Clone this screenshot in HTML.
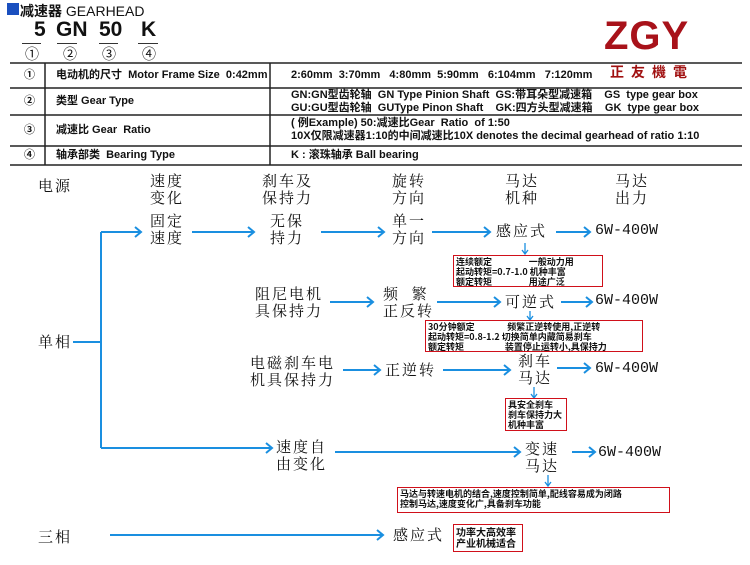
<!DOCTYPE html>
<html><head><meta charset="utf-8"><style>
*{margin:0;padding:0}
body{width:750px;height:565px;background:#fff;position:relative;overflow:hidden;font-family:"Liberation Sans","Noto Sans CJK SC",sans-serif;color:#111}
.a{position:absolute;white-space:nowrap}
.t{font-size:11px;font-weight:bold;line-height:13px}
.d{font-family:"Noto Serif CJK SC","Noto Sans CJK SC",serif;font-size:15px;line-height:17px;letter-spacing:2px}
.w{font-family:"Liberation Mono","DejaVu Sans Mono",monospace;font-size:15px;letter-spacing:0px}
.r{position:absolute;border:1.5px solid #d0101a;font-size:9px;line-height:10px;font-weight:bold;padding:1px 2px;white-space:nowrap;box-sizing:border-box;font-family:"Noto Sans CJK SC",sans-serif}
</style></head><body>
<div class="a" style="left:7px;top:3px;width:12px;height:12px;background:#1a4fbf"></div>
<div class="a" style="left:20px;top:1px;font-size:14px;font-weight:bold">减速器 <span style="font-weight:normal">GEARHEAD</span></div>
<div class="a" style="left:34px;top:18px;font-size:21px;font-weight:bold">5</div>
<div class="a" style="left:56px;top:18px;font-size:21px;font-weight:bold">GN</div>
<div class="a" style="left:99px;top:18px;font-size:21px;font-weight:bold">50</div>
<div class="a" style="left:141px;top:18px;font-size:21px;font-weight:bold">K</div>
<div class="a" style="left:22px;top:43px;width:19px;border-top:1px solid #333"></div>
<div class="a" style="left:57px;top:43px;width:20px;border-top:1px solid #333"></div>
<div class="a" style="left:99px;top:43px;width:19px;border-top:1px solid #333"></div>
<div class="a" style="left:138px;top:43px;width:20px;border-top:1px solid #333"></div>
<div class="a" style="left:25px;top:44px;font-size:14px">①</div>
<div class="a" style="left:63px;top:44px;font-size:14px">②</div>
<div class="a" style="left:102px;top:44px;font-size:14px">③</div>
<div class="a" style="left:142px;top:44px;font-size:14px">④</div>
<div class="a" style="left:604px;top:16px;font-family:'Liberation Sans',sans-serif;font-size:40px;font-weight:bold;color:#a8121a;letter-spacing:1px;line-height:40px">ZGY</div>
<div class="a" style="left:610px;top:64px;font-size:14px;font-weight:bold;color:#a01010;letter-spacing:7px;line-height:17px">正友機電</div>
<svg class="a" style="left:0;top:0" width="750" height="565">
<g stroke="#222" stroke-width="1.5" fill="none">
<line x1="10" y1="63" x2="742" y2="63"/><line x1="10" y1="88" x2="742" y2="88"/>
<line x1="10" y1="115" x2="742" y2="115"/><line x1="10" y1="146" x2="742" y2="146"/>
<line x1="10" y1="165" x2="742" y2="165"/>
<line x1="45" y1="63" x2="45" y2="165"/><line x1="270" y1="63" x2="270" y2="165"/>
</g>
<g stroke="#1a8fe0" stroke-width="2" fill="none">
<line x1="101" y1="232" x2="101" y2="448"/><line x1="73" y1="342" x2="101" y2="342"/>
<path d="M101 232H141M135 227l6 5-6 5"/>
<path d="M192 232H254M248 227l6 5-6 5"/>
<path d="M321 232H384M378 227l6 5-6 5"/>
<path d="M432 232H490M484 227l6 5-6 5"/>
<path d="M556 232H590M584 227l6 5-6 5"/>
<path d="M330 302H373M367 297l6 5-6 5"/>
<path d="M437 302H500M494 297l6 5-6 5"/>
<path d="M561 302H592M586 297l6 5-6 5"/>
<path d="M343 370H380M374 365l6 5-6 5"/>
<path d="M443 370H510M504 365l6 5-6 5"/>
<path d="M557 368H590M584 363l6 5-6 5"/>
<path d="M101 448H272M266 443l6 5-6 5"/>
<path d="M335 452H520M514 447l6 5-6 5"/>
<path d="M572 452H595M589 447l6 5-6 5"/>
<path d="M110 535H383M377 530l6 5-6 5"/>
</g>
<g stroke="#1a8fe0" stroke-width="1.3" fill="none">
<path d="M525 243V254M522 250l3 4 3-4"/>
<path d="M530 311V320M527 316l3 4 3-4"/>
<path d="M534 387V398M531 394l3 4 3-4"/>
<path d="M548 475V486M545 482l3 4 3-4"/>
</g>
</svg>
<div class="a t" style="left:24px;top:69px">①</div>
<div class="a t" style="left:24px;top:95px">②</div>
<div class="a t" style="left:24px;top:124px">③</div>
<div class="a t" style="left:24px;top:149px">④</div>
<div class="a t" style="left:56px;top:69px">电动机的尺寸&nbsp; Motor Frame Size&nbsp; 0:42mm</div>
<div class="a t" style="left:56px;top:95px">类型 Gear Type</div>
<div class="a t" style="left:56px;top:124px">减速比 Gear&nbsp; Ratio</div>
<div class="a t" style="left:56px;top:149px">轴承部类&nbsp; Bearing Type</div>
<div class="a t" style="left:291px;top:69px">2:60mm&nbsp; 3:70mm&nbsp;&nbsp; 4:80mm&nbsp; 5:90mm&nbsp;&nbsp; 6:104mm&nbsp;&nbsp; 7:120mm</div>
<div class="a t" style="left:291px;top:89px">GN:GN型齿轮轴&nbsp; GN Type Pinion Shaft&nbsp; GS:带耳朵型减速箱&nbsp;&nbsp;&nbsp; GS&nbsp; type gear box<br>GU:GU型齿轮轴&nbsp; GUType Pinon Shaft&nbsp;&nbsp;&nbsp; GK:四方头型减速箱&nbsp;&nbsp;&nbsp; GK&nbsp; type gear box</div>
<div class="a t" style="left:291px;top:117px">( 例Example) 50:减速比Gear&nbsp; Ratio&nbsp; of 1:50<br>10X仅限减速器1:10的中间减速比10X denotes the decimal gearhead of ratio 1:10</div>
<div class="a t" style="left:291px;top:149px">K : 滚珠轴承 Ball bearing</div>

<div class="a d" style="left:38px;top:177px">电源</div>
<div class="a d" style="left:150px;top:172px">速度<br>变化</div>
<div class="a d" style="left:262px;top:172px">刹车及<br>保持力</div>
<div class="a d" style="left:392px;top:172px">旋转<br>方向</div>
<div class="a d" style="left:505px;top:172px">马达<br>机种</div>
<div class="a d" style="left:615px;top:172px">马达<br>出力</div>
<div class="a d" style="left:150px;top:212px">固定<br>速度</div>
<div class="a d" style="left:270px;top:212px">无保<br>持力</div>
<div class="a d" style="left:392px;top:212px">单一<br>方向</div>
<div class="a d" style="left:496px;top:222px">感应式</div>
<div class="a w" style="left:595px;top:222px">6W-400W</div>
<div class="r" style="left:453px;top:255px;width:150px;height:32px">连续额定&nbsp;&nbsp;&nbsp;&nbsp;&nbsp;&nbsp;&nbsp;&nbsp;&nbsp;&nbsp;&nbsp;&nbsp;&nbsp;&nbsp;&nbsp;&nbsp;&nbsp; 一般动力用<br>起动转矩=0.7-1.0 机种丰富<br>额定转矩&nbsp;&nbsp;&nbsp;&nbsp;&nbsp;&nbsp;&nbsp;&nbsp;&nbsp;&nbsp;&nbsp;&nbsp;&nbsp;&nbsp;&nbsp;&nbsp;&nbsp; 用途广泛</div>
<div class="a d" style="left:255px;top:285px">阻尼电机<br>具保持力</div>
<div class="a d" style="left:383px;top:285px">频&nbsp; 繁<br>正反转</div>
<div class="a d" style="left:505px;top:293px">可逆式</div>
<div class="a w" style="left:595px;top:292px">6W-400W</div>
<div class="r" style="left:425px;top:320px;width:218px;height:32px">30分钟额定&nbsp;&nbsp;&nbsp;&nbsp;&nbsp;&nbsp;&nbsp;&nbsp;&nbsp;&nbsp;&nbsp;&nbsp;&nbsp;&nbsp;&nbsp; 频繁正逆转使用,正逆转<br>起动转矩=0.8-1.2 切换简单内藏简易刹车<br>额定转矩&nbsp;&nbsp;&nbsp;&nbsp;&nbsp;&nbsp;&nbsp;&nbsp;&nbsp;&nbsp;&nbsp;&nbsp;&nbsp;&nbsp;&nbsp;&nbsp;&nbsp;&nbsp;&nbsp; 装置停止运转小,具保持力</div>
<div class="a d" style="left:250px;top:354px">电磁刹车电<br>机具保持力</div>
<div class="a d" style="left:385px;top:361px">正逆转</div>
<div class="a d" style="left:518px;top:352px">刹车<br>马达</div>
<div class="a w" style="left:595px;top:360px">6W-400W</div>
<div class="r" style="left:505px;top:398px;width:62px;height:33px">具安全刹车<br>刹车保持力大<br>机种丰富</div>
<div class="a d" style="left:276px;top:438px">速度自<br>由变化</div>
<div class="a d" style="left:525px;top:440px">变速<br>马达</div>
<div class="a w" style="left:598px;top:444px">6W-400W</div>
<div class="r" style="left:397px;top:487px;width:273px;height:26px">马达与转速电机的结合,速度控制简单,配线容易成为闭路<br>控制马达,速度变化广,具备刹车功能</div>
<div class="a d" style="left:38px;top:333px">单相</div>
<div class="a d" style="left:38px;top:528px">三相</div>
<div class="a d" style="left:393px;top:526px">感应式</div>
<div class="r" style="left:453px;top:524px;width:70px;height:28px;font-size:10px;line-height:11px">功率大高效率<br>产业机械适合</div>
</body></html>
